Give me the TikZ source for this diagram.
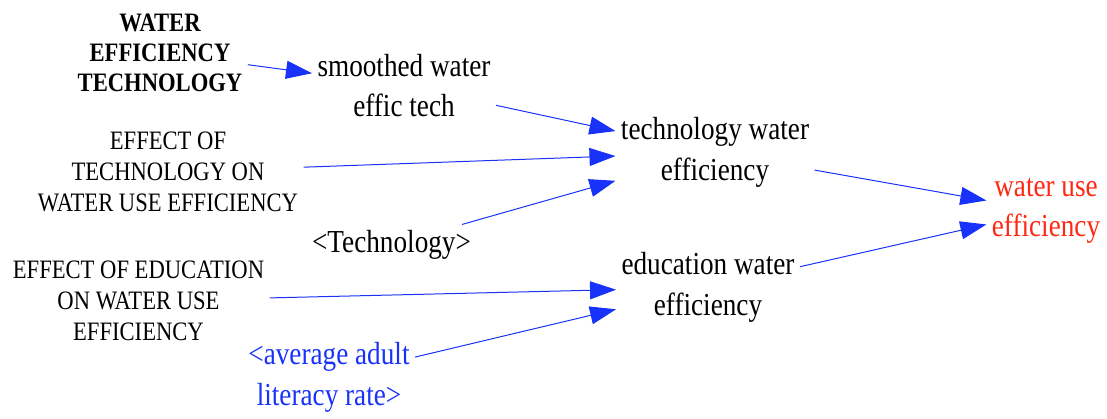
\documentclass[tikz,border=0pt]{standalone}
\usepackage{fontspec}
\setmainfont{LiberationSerif}[Extension=.ttf,UprightFont=*-Regular,BoldFont=*-Bold]
\usepackage{graphicx}
\usepackage{xcolor}
\usetikzlibrary{arrows.meta}

\definecolor{linkblue}{RGB}{25,50,250}
\definecolor{outred}{RGB}{255,40,20}
% narrow setting of one line
\newcommand{\nw}[1]{\scalebox{0.85}[1]{#1}}

\begin{document}
\begin{tikzpicture}[x=0.5pt,y=-0.5pt,->,>={Triangle[length=13pt,width=9pt]},line width=0.5pt]
  \tikzstyle{every node}=[inner sep=2.5pt,align=center]
  \tikzstyle{every edge}=[draw=linkblue]
  \tikzstyle{aux}=[font=\fontsize{16}{20.25}\selectfont]
  \tikzstyle{const}=[font=\fontsize{13.3}{15.5}\selectfont]
  \tikzstyle{level}=[font=\fontsize{13.3}{15}\selectfont\bfseries]
  \useasboundingbox (0,0) rectangle (1107,418);

  % Nodes
  \node[level] (wet) at (160,53) {\nw{WATER}\\\nw{EFFICIENCY}\\\nw{TECHNOLOGY}};
  \node[aux] (smooth) at (404,85.5) {\nw{smoothed water}\\\nw{effic tech}};
  \node[const] (efftech) at (168,172) {\nw{EFFECT OF}\\\nw{TECHNOLOGY ON}\\\nw{WATER USE EFFICIENCY}};
  \node[aux] (tech) at (391.5,244.5) {\nw{<Technology>}};
  \node[aux] (techwe) at (715,152.5) {\nw{technology water}\\\nw{efficiency}};
  \node[aux,text=outred] (wue) at (1046,211) {\nw{water use}\\\nw{efficiency}};
  \node[const] (effedu) at (138.5,301) {\nw{EFFECT OF EDUCATION}\\\nw{ON WATER USE}\\\nw{EFFICIENCY}};
  \node[aux] (eduwe) at (708,287.5) {\nw{education water}\\\nw{efficiency}};
  \node[aux,text=linkblue] (lit) at (329,377.5) {\nw{<average adult}\\\nw{literacy rate>}};

  % Arrows / links
  \path (wet) edge (smooth);        % level is smoothed
  \path (smooth) edge (techwe);
  \path (efftech) edge (techwe);
  \path (tech) edge (techwe);
  \path (techwe) edge (wue);
  \path (effedu) edge (eduwe);
  \path (lit) edge (eduwe);
  \path (eduwe) edge (wue);
\end{tikzpicture}
\end{document}
